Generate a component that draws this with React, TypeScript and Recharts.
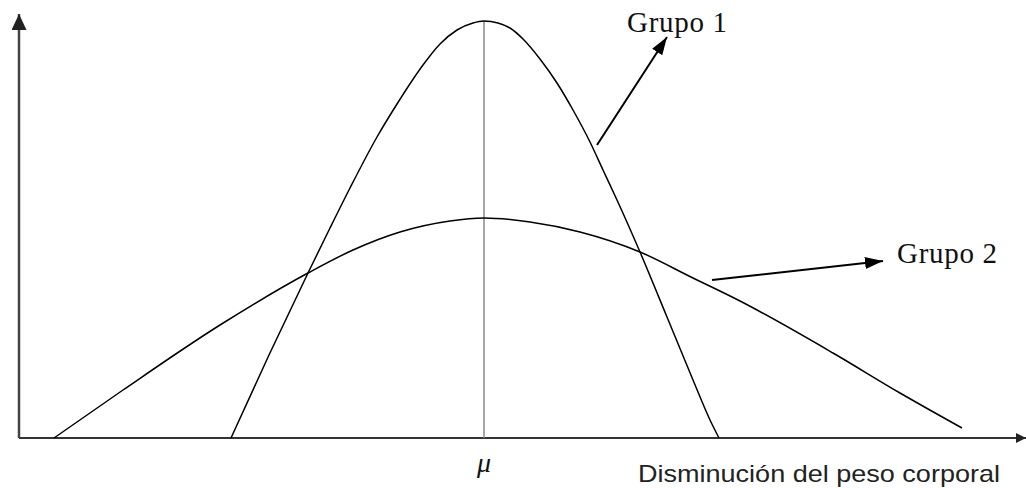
import { ComposedChart, Line, XAxis, YAxis, ReferenceLine, ReferenceDot } from "recharts";

// curve points (x along the axis, y height above the axis)
const grupo1X = [212, 250, 289, 311, 331, 358, 378, 404, 421, 438, 454, 465, 479, 491, 504, 521, 538, 554, 571, 584, 598, 621, 648, 674, 691, 700];
const grupo1Y = [0, 83, 165, 210, 250, 301, 334, 373, 394, 408, 415, 417, 415, 410, 399, 379, 355, 328, 296, 268, 238, 186, 121, 58, 18, 0];

const grupo2X = [35, 104, 201, 289, 334, 381, 431, 465, 511, 561, 621, 674, 721, 814, 881, 943];
const grupo2Y = [0, 48, 113, 165, 188, 206, 217, 220, 216, 206, 186, 160, 137, 85, 45, 10];

const mu = 465;
const muPeak = 417;
const xLabel = "Disminución del peso corporal";
const groupLabels = ["Grupo 1", "Grupo 2"];

const grupo1 = grupo1X.map((x, i) => ({ x, y: grupo1Y[i] }));
const grupo2 = grupo2X.map((x, i) => ({ x, y: grupo2Y[i] }));

const arrowLine = (marker: string, stroke: string, width: number) => (p: any) => (
  <line x1={p.x1} y1={p.y1} x2={p.x2} y2={p.y2} stroke={stroke} strokeWidth={width} markerEnd={`url(#${marker})`} />
);

const groupText = (text: string) => (p: any) => (
  <text
    x={p.cx}
    y={p.cy}
    fontFamily="'Liberation Serif', serif"
    fontSize={29}
    textLength={100}
    lengthAdjust="spacing"
    fill="#111"
  >
    {text}
  </text>
);

export default function App() {
  return (
    <div style={{ position: "absolute", left: 0, top: 0, background: "#fff" }}>
      <ComposedChart width={1026} height={488} margin={{ top: 14, right: 9, left: 19, bottom: 0 }}>
        <defs>
          <marker id="axisHead" markerUnits="userSpaceOnUse" markerWidth={16} markerHeight={16} refX={16} refY={7.5} orient="auto">
            <path d="M0,0 L16,7.5 L0,15 z" fill="#222" />
          </marker>
          <marker id="xHead" markerUnits="userSpaceOnUse" markerWidth={10} markerHeight={12} refX={10} refY={5} orient="auto">
            <path d="M0,0 L10,5 L0,10 z" fill="#222" />
          </marker>
          <marker id="groupHead" markerUnits="userSpaceOnUse" markerWidth={18} markerHeight={14} refX={18} refY={6} orient="auto">
            <path d="M0,0 L18,6 L0,12 z" fill="#000" />
          </marker>
        </defs>
        <XAxis
          type="number"
          dataKey="x"
          domain={[0, 998]}
          ticks={[mu]}
          axisLine={false}
          tickLine={false}
          height={50}
          tick={(p: any) => (
            <text x={p.x} y={p.y} dy={26} textAnchor="middle" fontFamily="'Liberation Serif', serif" fontStyle="italic" fontSize={28} fill="#111">
              μ
            </text>
          )}
          label={{
            content: (p: any) => (
              <text
                x={p.viewBox.x + p.viewBox.width - 17}
                y={p.viewBox.y + 44}
                textAnchor="end"
                fontFamily="'Liberation Sans', Arial, sans-serif"
                fontSize={24}
                textLength={362}
                lengthAdjust="spacingAndGlyphs"
                fill="#222"
              >
                {xLabel}
              </text>
            ),
          }}
        />
        <YAxis type="number" domain={[0, 424]} hide />

        <ReferenceLine segment={[{ x: 0, y: 0 }, { x: 1007, y: 0 }]} ifOverflow="visible" shape={arrowLine("xHead", "#333", 2)} />
        <ReferenceLine segment={[{ x: 0, y: 0 }, { x: 0, y: 424 }]} ifOverflow="visible" shape={arrowLine("axisHead", "#444", 2.5)} />
        <ReferenceLine segment={[{ x: mu, y: 0 }, { x: mu, y: muPeak }]} stroke="#888" strokeWidth={1.5} ifOverflow="visible" />

        <Line data={grupo1} dataKey="y" type="monotone" stroke="#000" strokeWidth={1.5} dot={false} isAnimationActive={false} />
        <Line data={grupo2} dataKey="y" type="monotone" stroke="#000" strokeWidth={1.5} dot={false} isAnimationActive={false} />

        <ReferenceLine segment={[{ x: 578, y: 293 }, { x: 648, y: 401 }]} ifOverflow="visible" shape={arrowLine("groupHead", "#000", 2)} />
        <ReferenceLine segment={[{ x: 693, y: 158 }, { x: 864, y: 177 }]} ifOverflow="visible" shape={arrowLine("groupHead", "#000", 2)} />

        <ReferenceDot x={608} y={406} r={0} ifOverflow="visible" shape={groupText(groupLabels[0])} />
        <ReferenceDot x={878} y={175} r={0} ifOverflow="visible" shape={groupText(groupLabels[1])} />
      </ComposedChart>
    </div>
  );
}
